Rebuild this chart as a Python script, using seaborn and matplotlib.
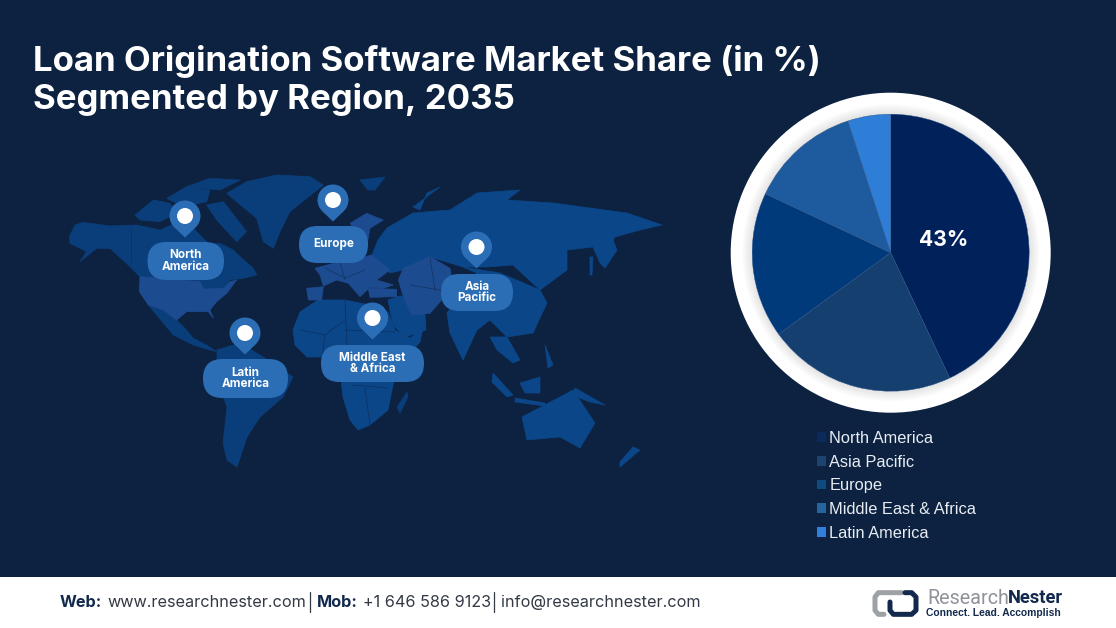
import matplotlib
matplotlib.use("Agg")
import matplotlib.pyplot as plt
from matplotlib.patches import Circle, FancyBboxPatch, Patch, Polygon, Rectangle
import seaborn as sns

# chart data
regions = ["North America", "Asia Pacific", "Europe", "Middle East & Africa", "Latin America"]
shares = [43, 22, 17, 13, 5]
pie_colors = ["#01215a", "#153f6f", "#003a7a", "#1e5a9e", "#2e7dd7"]
legend_colors = ["#0b2a5c", "#1d436f", "#0f4a80", "#26649f", "#2f80dc"]

title_lines = ["Loan Origination Software Market Share (in %)", "Segmented by Region, 2035"]
pin_labels = ["North\nAmerica", "Europe", "Latin\nAmerica", "Middle East\n& Africa", "Asia\nPacific"]

BG = "#0d2240"
MAP_BLUE = "#0b4689"
MAP_DARK = "#0a3e7a"
MAP_PURPLE = "#1d4b90"
PIN = "#2b6eb5"
NAVY = "#12294d"


def crop(pts, x0, y0):
    # outlines were traced on 3x crops of the picture
    return [(x0 + x / 3, y0 + y / 3) for x, y in pts]


# rough world map outlines, decoration only
land_dark = [crop(p, 60, 165) for p in [
    [(28,215),(45,180),(70,172),(150,183),(230,180),(300,195),(345,175),(400,190),(425,215),(445,235),(480,235),(520,255),(540,275),(580,310),(590,330),(550,340),(510,345),(490,370),(430,372),(420,350),(240,335),(205,300),(150,250),(110,250),(60,290),(80,260),(50,245),(30,235)],
    [(225,150),(280,105),(330,115),(350,145),(300,170),(240,165)],
    [(320,100),(380,65),(450,75),(440,110),(370,125)],
    [(380,65),(450,40),(540,45),(480,75)],
    [(440,120),(490,110),(560,200),(530,230),(470,165)],
    [(500,85),(560,50),(650,30),(750,35),(790,60),(740,100),(690,140),(660,200),(640,250),(610,230),(590,160),(530,110)],
    [(265,420),(310,435),(350,465),(375,490),(400,520),(440,540),(470,560),(450,555),(400,540),(340,510),(290,450)],
]] + [
    [(217,350),(240,343),(273,363),(293,377),(283,397),(260,417),(247,437),(237,467),(227,460),(223,443),(227,407),(217,380)],
    [(407,392),(408,397),(400,413),(397,407)],
    [(360,180),(385,177),(375,190),(368,190)],
]
land_blue = [
    [(372,255),(378,240),(387,228),(413,213),(450,210),(477,193),(520,190),(507,200),(553,203),(627,213),(662,225),(640,230),(615,237),(600,263),(593,247),(567,250),(567,270),(540,290),(513,265),(487,267),(463,267),(430,257),(403,270),(390,273)],
    [(463,267),(500,273),(540,290),(547,303),(533,333),(507,337),(490,320),(447,313),(477,273)],
    [(447,313),(490,320),(477,330),(463,360),(450,333)],
    [(490,337),(507,337),(520,360),(513,363),(497,350)],
    [(293,330),(300,312),(318,300),(345,300),(370,305),(388,312),(395,330),(410,338),(423,328),(420,342),(400,365),(393,385),(388,410),(370,425),(358,430),(350,420),(343,397),(340,370),(330,357),(307,357),(295,345)],
    [(388,300),(400,296),(420,300),(425,315),(426,330),(405,337),(393,325)],
    [(522,417),(560,397),(573,390),(595,423),(580,448),(560,437),(527,440)],
    [(520,383),(540,377),(540,393),(525,393)],
    [(493,373),(513,395),(507,397),(492,382)],
    [(515,398),(545,403),(545,406),(515,402)],
    [(575,388),(605,405),(590,402),(572,395)],
    [(545,345),(553,365),(548,368)],
    [(600,263),(613,240),(617,250),(605,268)],
    [(590,257),(593,257),(592,275),(590,275)],
    [(633,447),(640,450),(620,467),(620,462)],
    [(413,207),(440,187),(427,193),(420,210)],
]
land_purple = [crop(p, 60, 165) for p in [
    [(240,335),(420,350),(430,372),(490,370),(510,350),(530,345),(500,385),(470,410),(450,435),(460,460),(445,440),(380,440),(350,465),(310,435),(265,420),(238,380)],
]] + [crop(p, 280, 200) for p in [
    [(80,265),(130,260),(125,300),(85,300)],
    [(105,205),(160,190),(240,175),(275,165),(330,210),(290,240),(340,255),(310,265),(270,262),(240,290),(205,250),(170,240),(130,258),(120,225)],
    [(210,70),(260,40),(310,60),(270,85),(262,130),(240,100),(225,90)],
    [(265,265),(350,268),(350,290),(270,292)],
    [(370,205),(450,170),(510,205),(520,260),(450,340),(395,345),(370,290),(355,240)],
]]

pin_xy = [(185, 216), (333, 200), (245, 333), (372.5, 318), (476.5, 247)]
pill_boxes = [(147.5, 242, 76.5, 38), (299, 226, 69, 37), (203, 359, 85, 39), (321, 345, 103, 37), (441, 274, 72, 37)]
borders = [
    [(300,330),(325,335),(345,320)], [(345,300),(347,345)], [(325,335),(322,357)], [(345,330),(395,332)],
    [(325,268),(345,278),(365,270)], [(340,262),(345,280)], [(410,285),(440,290),(452,305)], [(430,258),(435,290)],
    [(352,385),(388,388)], [(365,388),(370,425)], [(131,230),(131,262)],
]

sns.set_theme(style="white")
plt.rcParams["font.family"] = ["Inter", "DejaVu Sans"]
palette = sns.color_palette(pie_colors)

fig = plt.figure(figsize=(11.16, 6.28), dpi=100, facecolor=BG)
bg = fig.add_axes([0, 0, 1, 1])
bg.set_xlim(0, 1116)
bg.set_ylim(628, 0)
bg.axis("off")

# title
bg.text(33, 62, title_lines[0], color="white", fontsize=25.05, fontweight="bold", va="center")
bg.text(33, 99.5, title_lines[1], color="white", fontsize=25.05, fontweight="bold", va="center")

# map
for shapes, col in [(land_dark, MAP_DARK), (land_blue, MAP_BLUE), (land_purple, MAP_PURPLE)]:
    for pts in shapes:
        bg.add_patch(Polygon(pts, closed=True, facecolor=col, edgecolor=col, lw=0.5, zorder=2))
for line in borders:
    bg.plot(*zip(*line), color=BG, lw=0.5, alpha=0.6, zorder=3)

# pins and their labels
for (px, py), box, label in zip(pin_xy, pill_boxes, pin_labels):
    bg.add_patch(Circle((px, py), 15.5, facecolor=PIN, edgecolor="none", zorder=4))
    bg.add_patch(Polygon([(px - 10.5, py + 11.4), (px, py + 21.5), (px + 10.5, py + 11.4)], facecolor=PIN, edgecolor="none", zorder=4))
    bg.add_patch(Circle((px, py), 8, facecolor="white", edgecolor="none", zorder=5))
    x, y, w, h = box
    bg.add_patch(FancyBboxPatch((x, y), w, h, boxstyle=f"round,pad=0,rounding_size={h / 2}",
                                facecolor=PIN, edgecolor="none", zorder=4))
    bg.text(x + w / 2, y + h / 2, label, color="white", fontsize=8.4, fontweight="bold",
            ha="center", va="center", linespacing=0.9, zorder=5)

# white ring with soft inner shadow
cx, cy, r = 890.7, 252.7, 138.5
bg.add_patch(Circle((cx, cy), 160, facecolor="white", edgecolor="none", zorder=2))
for extra in [10, 8.5, 7, 5.5, 4, 2.5, 1]:
    bg.add_patch(Circle((cx, cy), r + extra, facecolor="#000000", alpha=0.016, edgecolor="none", zorder=3))

pie_ax = fig.add_axes([(cx - r) / 1116, 1 - (cy + r) / 628, 2 * r / 1116, 2 * r / 628], zorder=5)
pie_ax.pie(shares, colors=palette, startangle=90, counterclock=False,
           wedgeprops={"edgecolor": "#2a5288", "linewidth": 0.3})
pie_ax.set_xlim(-1, 1)
pie_ax.set_ylim(-1, 1)
pie_ax.text(0.38, 0.09, f"{shares[0]}%", color="white", fontsize=15.2, fontweight="bold", ha="center", va="center")

# legend
handles = [Patch(facecolor=c, edgecolor="none") for c in legend_colors]
leg = fig.legend(handles, regions, loc="upper left", bbox_to_anchor=(817 / 1116, 1 - 431 / 628), frameon=False,
                 prop={"family": "Liberation Sans", "size": 11.75}, labelcolor="#e8edf4",
                 handlelength=0.56, handleheight=0.56, handletextpad=0.2, labelspacing=0.53, borderpad=0, borderaxespad=0)

# footer
bg.add_patch(Rectangle((0, 577), 1116, 51, facecolor="white", edgecolor="none", zorder=6))
foot = [(60, "Web:", True), (107, "www.researchnester.com", False), (317, "Mob:", True),
        (363, "+1 646 586 9123", False), (501, "info@researchnester.com", False)]
for x, s, b in foot:
    bg.text(x, 602.5, s, color=NAVY if b else "#333a45", fontsize=11.7, fontweight="bold" if b else "normal",
            va="center", zorder=7)
bg.plot([310, 310], [592, 612], color="#333a45", lw=0.9, zorder=7)
bg.plot([494, 494], [592, 612], color="#333a45", lw=0.9, zorder=7)

# logo
grey_mark = crop([(125,32),(55,32),(45,45),(45,85),(55,97),(72,97)], 860, 582)
navy_mark = crop([(90,60),(90,85),(100,97),(155,97),(168,85),(168,45),(155,32),(135,32)], 860, 582)
bg.plot(*zip(*grey_mark), color="#9ea1a5", lw=3.6, solid_joinstyle="round", zorder=7)
bg.plot(*zip(*navy_mark), color=NAVY, lw=3.6, solid_joinstyle="round", zorder=7)
bg.text(927, 598, "Research", color="#8f9399", fontsize=14.2, family="Roboto", va="center", zorder=7)
bg.text(1008, 598, "Nester", color=NAVY, fontsize=13.2, fontweight="bold", family="Roboto", va="center", zorder=7)
bg.text(926, 613.5, "Connect. Lead. Accomplish", color=NAVY, fontsize=7.4, fontweight="bold",
        family="Liberation Sans", va="center", zorder=7)

fig.savefig("out.png", dpi=100, facecolor=BG)
